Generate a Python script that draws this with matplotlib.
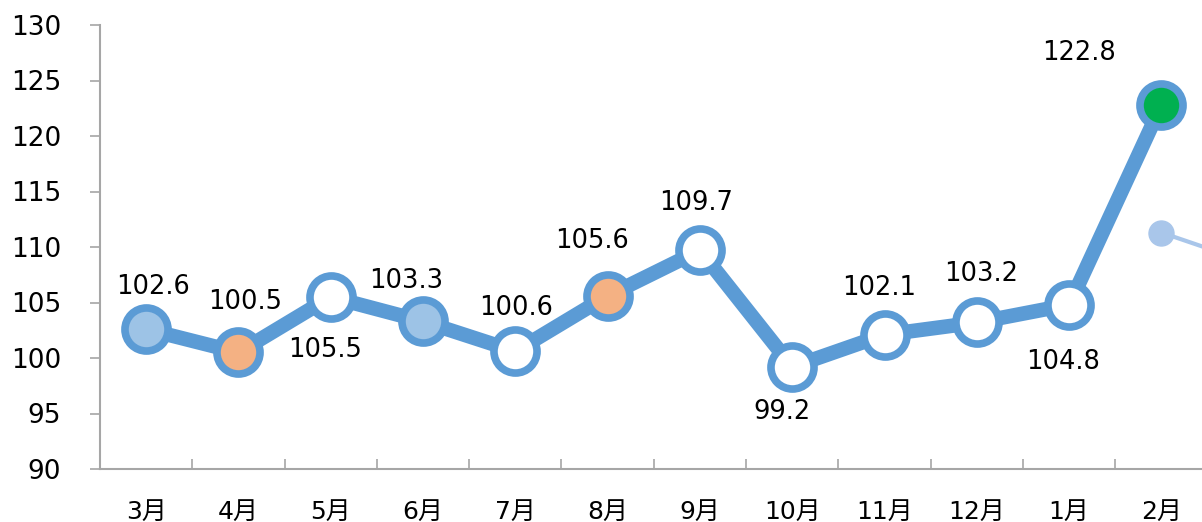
import matplotlib
matplotlib.use("Agg")
import matplotlib.pyplot as plt

plt.rcParams['font.family'] = ['DejaVu Sans', 'Noto Sans CJK SC']

months = ['3月', '4月', '5月', '6月', '7月', '8月', '9月', '10月', '11月', '12月', '1月', '2月']
values = [102.6, 100.5, 105.5, 103.3, 100.6, 105.6, 109.7, 99.2, 102.1, 103.2, 104.8, 122.8]
face_colors = ['#9DC3E6', '#F4B183', 'white', '#9DC3E6', 'white', '#F4B183',
               'white', 'white', 'white', 'white', 'white', '#00B050']
# label offsets in pixels (dx, dy) relative to each point
label_offsets = [(7, 42), (7, 50), (-6, -53), (-17, 40), (1, 43), (-16, 55),
                 (-4, 47), (-10, -45), (-5, 47), (4, 48), (-6, -57), (-82, 52)]

# stray leader line of a cropped note at the right edge
note_x = [11, 11.6]
note_y = [111.3, 109.6]

line_col = '#5B9BD5'
axis_col = '#A6A6A6'

fig = plt.figure(figsize=(12.02, 5.22), dpi=100)
ax = fig.add_axes([100 / 1202, 53 / 522, 1107.6 / 1202, 444 / 522])

x = list(range(len(months)))
ax.plot(x, values, color=line_col, linewidth=10.5, solid_capstyle='round', zorder=2)
for i in x:
    ax.plot(x[i], values[i], 'o', markersize=31, markerfacecolor=face_colors[i],
            markeredgecolor=line_col, markeredgewidth=5.5, zorder=3)

for i in x:
    dx, dy = label_offsets[i]
    ax.annotate(f'{values[i]:.1f}', (x[i], values[i]), xytext=(dx, dy),
                textcoords='offset pixels', ha='center', va='center',
                fontsize=18.5, color='black', zorder=4)

ax.plot(note_x, note_y, color='#A9C6EA', linewidth=3, clip_on=False, zorder=2)
ax.plot(note_x[0], note_y[0], 'o', markersize=18, color='#A9C6EA', zorder=2)

ax.set_xlim(-0.5, 11.5)
ax.set_ylim(90, 130)
ax.set_yticks(range(90, 131, 5))
ax.set_xticks(x)
ax.set_xticklabels(months)
ax.set_xticks([i + 0.5 for i in range(-1, 12)], minor=True)

ax.tick_params(axis='y', labelsize=19, length=7, width=1.2, color=axis_col, pad=21)
ax.tick_params(axis='x', which='major', labelsize=18, length=0, pad=22)
ax.tick_params(axis='x', which='minor', direction='in', length=7, width=1.2, color=axis_col)

for s in ['top', 'right']:
    ax.spines[s].set_visible(False)
for s in ['left', 'bottom']:
    ax.spines[s].set_color(axis_col)
    ax.spines[s].set_linewidth(1.5)

fig.savefig('out.png', dpi=100)
